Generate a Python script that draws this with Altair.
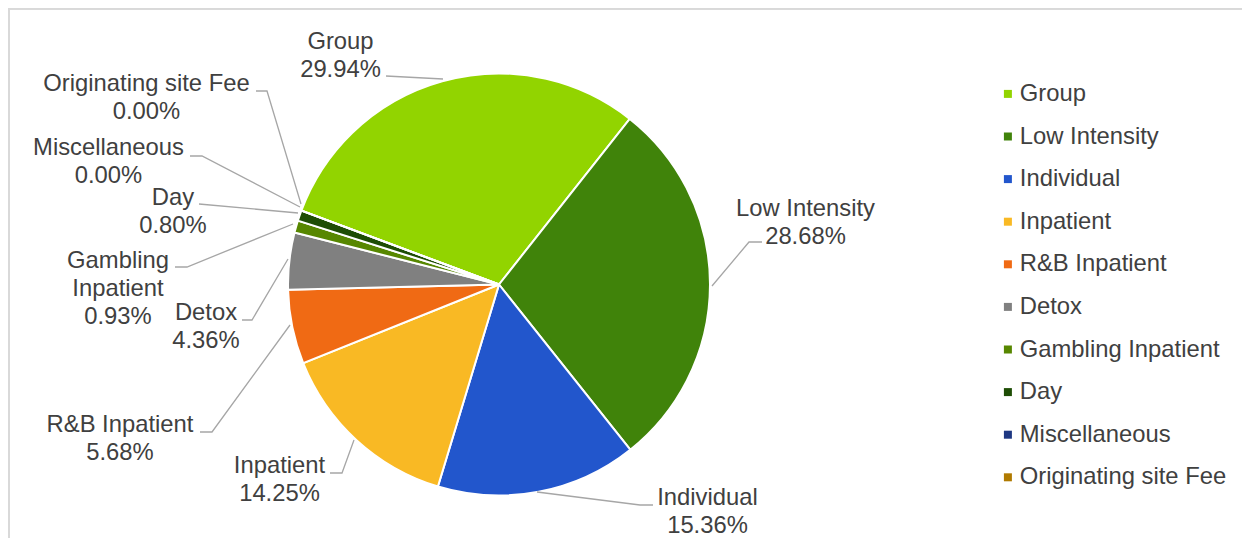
import math
import altair as alt
import pandas as pd

# ---------------- data ----------------
categories = ["Group", "Low Intensity", "Individual", "Inpatient", "R&B Inpatient",
              "Detox", "Gambling Inpatient", "Day", "Miscellaneous", "Originating site Fee"]
values = [29.94, 28.68, 15.36, 14.25, 5.68, 4.36, 0.93, 0.80, 0.00, 0.00]
label_names = ["Group", "Low Intensity", "Individual", "Inpatient", "R&B Inpatient",
               "Detox", "Gambling\nInpatient", "Day", "Miscellaneous", "Originating site Fee"]

# ---------------- styles ----------------
colors = ["#92D400", "#40830A", "#2256CC", "#F9B924", "#F06A14",
          "#808080", "#578700", "#1E4D05", "#1E3782", "#B07A00"]
FONT = "Liberation Sans"
FONT_SIZE = 23.8
TEXT_COLOR = "#404040"
LINE_COLOR = "#A6A6A6"

# ---------------- layout (page pixels) ----------------
PAD = 10                       # page offset of chart origin (8px margin + 2px padding)
W, H = 1232, 528
CENTER = (499, 284.5)
RADIUS = 211
START_DEG = -69.5              # pie rotation (first slice start, clockwise from 12 o'clock)

label_pos = {
    "Group": (340.5, 49), "Low Intensity": (805.5, 216), "Individual": (707.5, 505),
    "Inpatient": (279.5, 473), "R&B Inpatient": (120, 432), "Detox": (206, 320),
    "Gambling Inpatient": (118, 268), "Day": (173, 205), "Miscellaneous": (108.5, 155),
    "Originating site Fee": (146.5, 91),
}
leader_pts = {
    "Group": [(443, 79), (386, 76)],
    "Low Intensity": [(712, 286), (749, 242), (762, 242)],
    "Individual": [(537, 492), (640, 505), (653, 505)],
    "Inpatient": [(354, 440), (342, 473), (330, 473)],
    "R&B Inpatient": [(290, 325), (212, 432), (200, 432)],
    "Detox": [(288, 259), (252, 320), (242, 320)],
    "Gambling Inpatient": [(293, 224), (187, 267), (175, 267)],
    "Day": [(298, 213), (199, 204)],
    "Miscellaneous": [(300, 207), (202, 156), (190, 156)],
    "Originating site Fee": [(301, 204), (267, 91), (256, 91)],
}

# ---------------- tables ----------------
pie_df = pd.DataFrame({"category": categories, "value": values, "idx": list(range(len(categories)))})

lab_df = pd.DataFrame({
    "category": categories,
    "text": [f"{n}\n{v:.2f}%" for n, v in zip(label_names, values)],
    "px": [label_pos[c][0] - PAD for c in categories],
    "py": [label_pos[c][1] - PAD for c in categories],
})

rows = []
for c in categories:
    for i, (x, y) in enumerate(leader_pts[c]):
        rows.append({"category": c, "i": i, "px": x - PAD, "py": y - PAD})
line_df = pd.DataFrame(rows)

a0 = math.radians(START_DEG)

pie = alt.Chart(pie_df).mark_arc(
    outerRadius=RADIUS, stroke="white", strokeWidth=2
).encode(
    theta=alt.Theta("value:Q", stack=True, scale=alt.Scale(range=[a0, a0 + 2 * math.pi])),
    order=alt.Order("idx:Q"),
    color=alt.Color(
        "category:N",
        scale=alt.Scale(domain=categories, range=colors),
        sort=categories,
        legend=alt.Legend(
            title=None, orient="none", direction="vertical",
            legendX=986, legendY=72, padding=0,
            symbolType="square", symbolSize=64, symbolStrokeWidth=0,
            labelFont=FONT, labelFontSize=FONT_SIZE, labelColor=TEXT_COLOR,
            labelOffset=0, rowPadding=17.6, labelLimit=400,
        ),
    ),
    x=alt.value(CENTER[0] - PAD),
    y=alt.value(CENTER[1] - PAD),
)

leaders = alt.Chart(line_df).mark_line(color=LINE_COLOR, strokeWidth=1.3).encode(
    x=alt.X("px:Q", scale=None),
    y=alt.Y("py:Q", scale=None),
    detail="category:N",
    order="i:Q",
)

labels = alt.Chart(lab_df).mark_text(
    align="center", baseline="alphabetic", font=FONT, fontSize=FONT_SIZE,
    color=TEXT_COLOR, lineBreak="\n", lineHeight=28,
).encode(
    x=alt.X("px:Q", scale=None),
    y=alt.Y("py:Q", scale=None),
    text="text:N",
)

frame_top = alt.Chart(pie_df).mark_rule(color="#D9D9D9", strokeWidth=1.6).encode(
    x=alt.value(-2), x2=alt.value(W + 10), y=alt.value(-1.2)
)
frame_left = alt.Chart(pie_df).mark_rule(color="#D9D9D9", strokeWidth=1.6).encode(
    x=alt.value(-1.2), y=alt.value(-2), y2=alt.value(H + 20)
)

chart = alt.layer(frame_top, frame_left, pie, leaders, labels).properties(
    width=W, height=H,
    padding={"left": 2, "top": 2, "right": 0, "bottom": 0},
    autosize=alt.AutoSizeParams(type="none"),
).configure_view(stroke=None)

chart.save("out.html", embed_options={"renderer": "svg", "actions": False})
